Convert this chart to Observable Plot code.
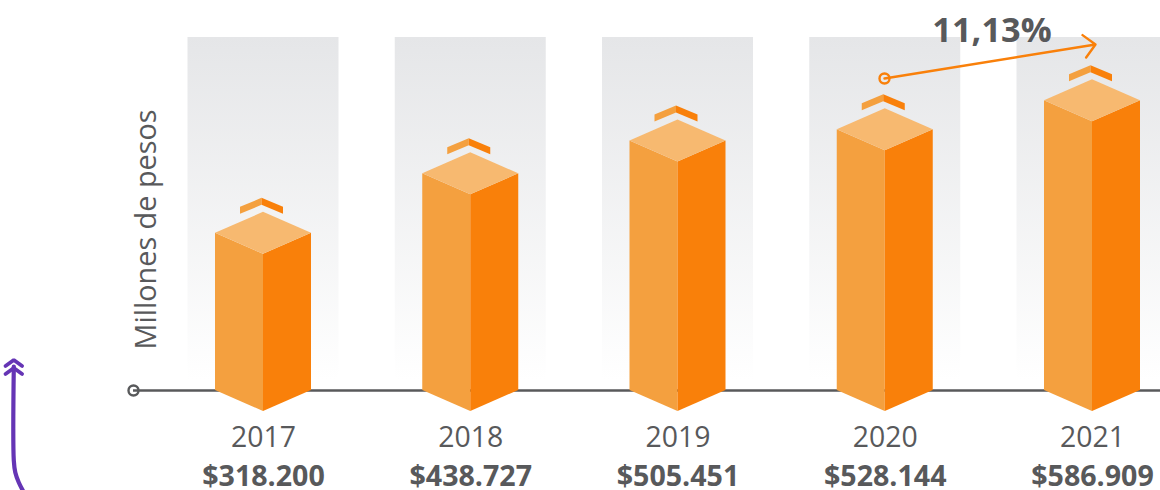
<!DOCTYPE html>
<html lang="es">
<head>
<meta charset="utf-8">
<script src="https://cdn.jsdelivr.net/npm/d3@7"></script>
<script src="https://cdn.jsdelivr.net/npm/@observablehq/plot@0.6"></script>
<style>html,body{margin:0;padding:0;background:#fff;overflow:hidden}svg{display:block}</style>
</head>
<body>
<script>
const years = [2017, 2018, 2019, 2020, 2021];
const values = [318200, 438727, 505451, 528144, 586909];
const valueLabels = ["$318.200", "$438.727", "$505.451", "$528.144", "$586.909"];
const growthLabel = "11,13%";
const yAxisTitle = "Millones de pesos";

const GREY = "#58595b", LEFT = "#f4a03f", RIGHT = "#f9800a", TOP = "#f7b970", PURPLE = "#6535b5";

// one year = 207.25 px, one screen pixel of height = 2025 pesos
const X = px => 2017 + (px - 263) / 207.25;
const Y = px => (390 - px) * 2025;
const W = px => px / 207.25;
const H = px => px * 2025;

const faces = [];
function face(id, fill, pts) { pts.forEach(([x, y1, y2]) => faces.push({id, fill, x, y1, y2})); }
years.forEach((yr, i) => {
  const v = values[i], hw = W(48), d = H(21);
  face(yr + "L", LEFT, [[yr - hw, v, 0], [yr, v - d, -d]]);
  face(yr + "R", RIGHT, [[yr, v - d, -d], [yr + hw, v, 0]]);
  face(yr + "T", TOP, [[yr - hw, v, v], [yr, v + d, v - d], [yr + hw, v, v]]);
  const c = yr - W(1.5), cw = W(21.5), tip = v + H(35), low = H(9);
  face(yr + "CL", LEFT, [[c - cw, tip - low, tip - low - H(7)], [c, tip, tip - H(7)]]);
  face(yr + "CR", RIGHT, [[c, tip, tip - H(7)], [c + cw, tip - low, tip - low - H(7)]]);
});
const table = years.map((year, i) => ({year, value: values[i], label: valueLabels[i]}));
const bands = years.map(year => ({x1: year - W(75.5), x2: year + W(75.5)}));

const purpleLine = [[13.3, 366], [13.3, 460], [14.8, 472], [18.3, 482], [24, 493]].map(([a, b]) => ({x: X(a), y: Y(b)}));
const purpleHeads = [0, 8].flatMap(o => [[5, 365.5], [13.3, 359.5], [21.6, 365.5]].map(([a, b]) => ({k: o, x: X(a), y: Y(b + o)})));

const defs = () => {
  const s = d3.create("svg:defs");
  const g = s.append("linearGradient").attr("id", "bandFade").attr("x1", 0).attr("x2", 0).attr("y1", 0).attr("y2", 1);
  g.append("stop").attr("offset", 0).attr("stop-color", "#e5e6e8");
  g.append("stop").attr("offset", 1).attr("stop-color", "#ffffff");
  return s.node();
};

const font = {fontFamily: "'Open Sans', sans-serif"};
const chart = Plot.plot({
  width: 1160, height: 490,
  marginTop: 0, marginRight: 0, marginBottom: 0, marginLeft: 0,
  x: {type: "linear", domain: [2017, 2021], range: [263, 1092], axis: null},
  y: {type: "linear", domain: [0, 390 * 2025], range: [390, 0], axis: null},
  style: {background: "#fff"},
  marks: [
    defs,
    Plot.rect(bands, {x1: "x1", x2: "x2", y1: () => Y(37), y2: () => Y(380), fill: "url(#bandFade)"}),
    Plot.ruleY([0], {x1: () => X(133), x2: () => X(1160), stroke: GREY, strokeWidth: 2.4}),
    Plot.dot([0], {x: () => X(133), y: () => 0, r: 5, stroke: GREY, strokeWidth: 2.4, fill: "none"}),
    Plot.area(faces, {x1: "x", y1: "y1", y2: "y2", z: "id", fill: "fill"}),
    Plot.text(table, {x: "year", y: () => Y(437), text: d => String(d.year), fill: GREY, fontSize: 28.4, ...font}),
    Plot.text(table, {x: "year", y: () => Y(476), text: "label", fill: GREY, fontSize: 28.6, fontWeight: 700, ...font}),
    Plot.text([yAxisTitle], {x: () => X(146), y: () => Y(229), text: d => d, rotate: -90, fill: GREY, fontSize: 28.8, ...font}),
    Plot.text([growthLabel], {x: () => X(991.5), y: () => Y(30), text: d => d, fill: GREY, fontSize: 34.4, fontWeight: 700, ...font}),
    Plot.arrow([0], {x1: () => X(884), y1: () => Y(78), x2: () => X(1095), y2: () => Y(44), bend: 0, stroke: RIGHT, strokeWidth: 2.4, headLength: 10, headAngle: 90}),
    Plot.dot([0], {x: () => X(884), y: () => Y(78), r: 5, stroke: RIGHT, strokeWidth: 2.4, fill: "none"}),
    Plot.line(purpleLine, {x: "x", y: "y", curve: "catmull-rom", stroke: PURPLE, strokeWidth: 4.2}),
    Plot.line(purpleHeads, {x: "x", y: "y", z: "k", stroke: PURPLE, strokeWidth: 3.8, strokeLinejoin: "miter"})
  ]
});
document.body.appendChild(chart);
</script>
</body>
</html>
